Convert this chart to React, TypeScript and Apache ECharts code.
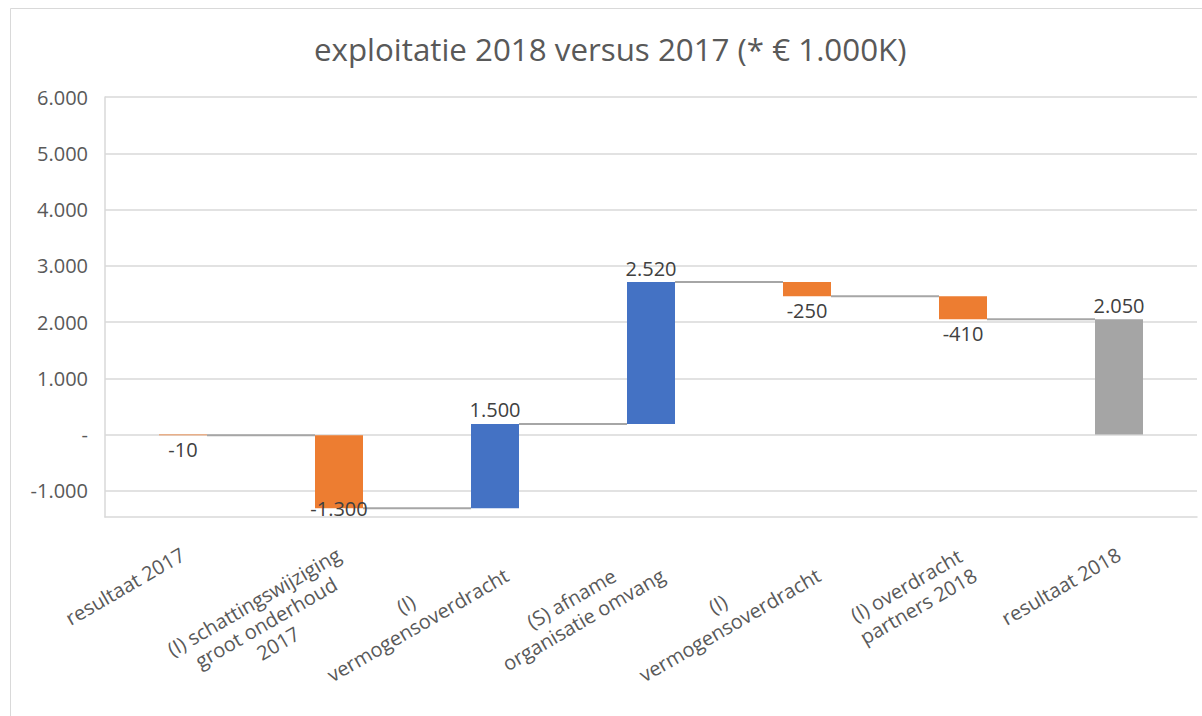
import React, { useEffect, useRef } from "react";
import * as echarts from "echarts";

const titleText = "exploitatie 2018 versus 2017 (* € 1.000K)";
const categories = [
  "resultaat 2017",
  "(I) schattingswijziging\ngroot onderhoud\n2017",
  "(I)\nvermogensoverdracht",
  "(S) afname\norganisatie omvang",
  "(I)\nvermogensoverdracht",
  "(I) overdracht\npartners 2018",
  "resultaat 2018",
];
const changes = [-10, -1300, 1500, 2520, -250, -410];
const totalValue = 2050;
const yTicks = [-1000, 0, 1000, 2000, 3000, 4000, 5000, 6000];
const yMin = -1465;
const yMax = 6000;

const COLOR_NEG = "#ED7D31";
const COLOR_POS = "#4472C4";
const COLOR_TOTAL = "#A5A5A5";
const FONT = "'Open Sans', 'Noto Sans', sans-serif";

function fmt(v: number): string {
  if (v === 0) return "-";
  const s = String(Math.abs(Math.round(v))).replace(/\B(?=(\d{3})+(?!\d))/g, ".");
  return (v < 0 ? "-" : "") + s;
}

export default function App() {
  const ref = useRef<HTMLDivElement>(null);

  useEffect(() => {
    if (!ref.current) return;
    const chart = echarts.init(ref.current, null, { renderer: "svg" });

    const bases: number[] = [];
    const values: any[] = [];
    const levels: number[] = [];
    let running = 0;
    changes.forEach((c) => {
      bases.push(running);
      running += c;
      levels.push(running);
      const neg = c < 0;
      values.push({
        value: c,
        itemStyle: { color: neg ? COLOR_NEG : COLOR_POS },
        label: {
          position: neg ? "bottom" : "top",
          offset: running < yMin + 300 ? [0, -14] : [0, 0],
        },
      });
    });
    bases.push(0);
    values.push({
      value: totalValue,
      itemStyle: { color: COLOR_TOTAL },
      label: { position: "top" },
    });

    const option: any = {
      animation: false,
      backgroundColor: "#ffffff",
      title: {
        text: titleText,
        left: 314,
        top: 33,
        padding: 0,
        textStyle: {
          fontFamily: FONT,
          fontSize: 31.3,
          fontWeight: "normal",
          color: "#595959",
        },
      },
      graphic: [
        {
          type: "rect",
          silent: true,
          shape: { x: 10.5, y: 8.5, width: 1400, height: 900 },
          style: { fill: "none", stroke: "#d9d9d9", lineWidth: 1 },
          z: -10,
        },
      ],
      grid: { left: 105, right: 5, top: 97, bottom: 199, containLabel: false },
      xAxis: {
        type: "category",
        data: categories,
        axisLine: { onZero: false, lineStyle: { color: "#d9d9d9", width: 1.5 } },
        axisTick: { show: false },
        axisLabel: {
          interval: 0,
          rotate: 30,
          margin: 16,
          verticalAlign: "top",
          padding: [5, 10, 0, 0],
          color: "#595959",
          fontFamily: FONT,
          fontSize: 20,
          formatter: (v: string) =>
            v
              .split("\n")
              .map((l) => "{c|" + l + "}")
              .join("\n"),
          rich: {
            c: {
              align: "center",
              color: "#595959",
              fontFamily: FONT,
              fontSize: 20,
              lineHeight: 24,
            },
          },
        },
      },
      yAxis: {
        type: "value",
        min: yMin,
        max: yMax,
        axisLine: { show: true, lineStyle: { color: "#d9d9d9", width: 1.5 } },
        axisTick: { show: false, customValues: yTicks },
        splitLine: { show: true, lineStyle: { color: "#d9d9d9", width: 1.5 } },
        axisLabel: {
          customValues: yTicks,
          margin: 17,
          color: "#595959",
          fontFamily: FONT,
          fontSize: 20,
          formatter: (v: number) => fmt(v),
        },
      },
      series: [
        {
          type: "bar",
          stack: "wf",
          stackStrategy: "all",
          barWidth: 48,
          silent: true,
          itemStyle: { color: "transparent" },
          label: { show: false },
          data: bases,
        },
        {
          type: "bar",
          stack: "wf",
          stackStrategy: "all",
          barWidth: 48,
          label: {
            show: true,
            distance: 4,
            color: "#404040",
            fontFamily: FONT,
            fontSize: 20,
            formatter: (p: any) => fmt(p.value),
          },
          data: values,
        },
        {
          type: "custom",
          silent: true,
          z: 1,
          encode: { x: 0, y: 1 },
          data: levels.map((lv, i) => [i, lv]),
          renderItem: (params: any, api: any) => {
            const i = api.value(0);
            const lv = api.value(1);
            const p1 = api.coord([i, lv]);
            const p2 = api.coord([i + 1, lv]);
            return {
              type: "line",
              shape: { x1: p1[0] + 24, y1: p1[1], x2: p2[0] - 24, y2: p2[1] },
              style: { stroke: "#a6a6a6", lineWidth: 2 },
            };
          },
        },
      ],
    };

    chart.setOption(option);
    return () => chart.dispose();
  }, []);

  return (
    <div
      ref={ref}
      style={{ position: "fixed", left: 0, top: 0, width: 1202, height: 716, background: "#fff" }}
    />
  );
}
